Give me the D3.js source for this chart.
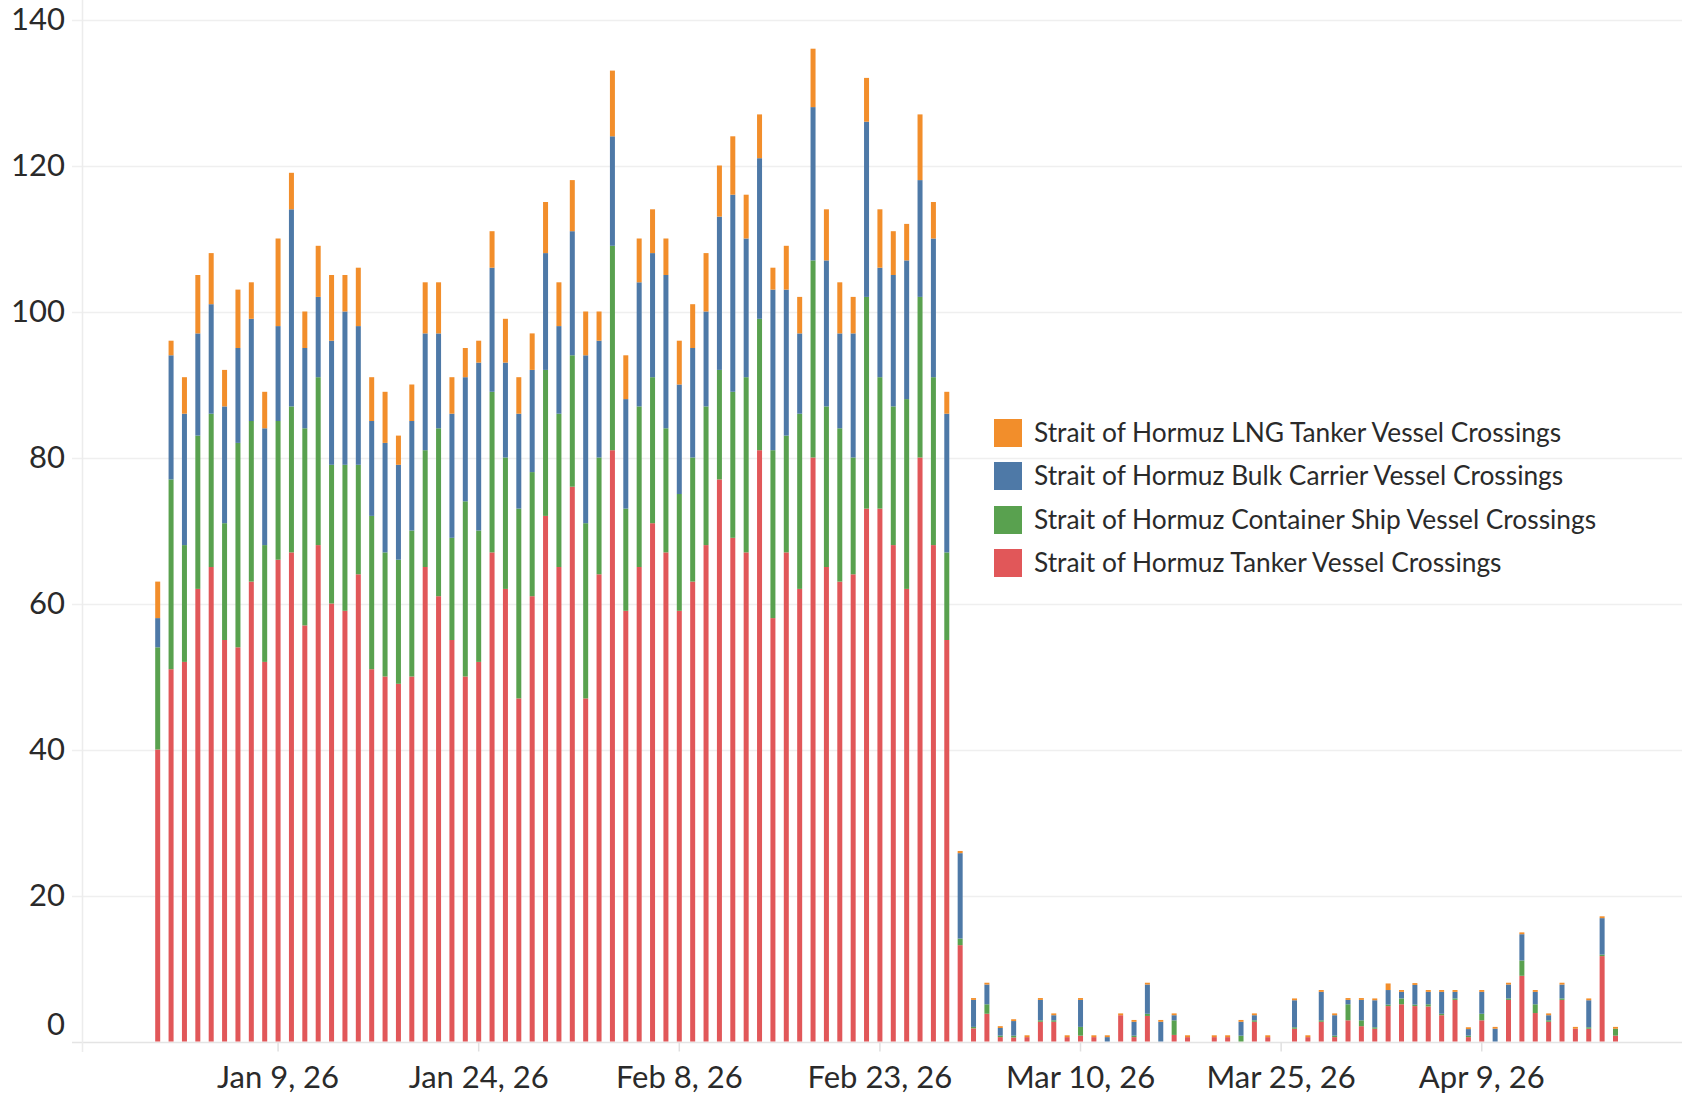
<!DOCTYPE html>
<html><head><meta charset="utf-8">
<script src="https://cdn.jsdelivr.net/npm/d3@7"></script>
<style>
html,body{margin:0;padding:0;background:#fff;}
svg{display:block;font-family:Lato,"Open Sans",sans-serif;}
</style>
</head><body>
<svg id="chart" width="1682" height="1098"></svg>
<script>
// ---- data ----
const startDate = "2025-12-31";
const endDate = "2026-04-19";
const missingDates = ["2026-03-19", "2026-03-25"];

const seriesKeys = ["tanker", "container", "bulk", "lng"];
const seriesNames = {
  lng: "Strait of Hormuz LNG Tanker Vessel Crossings",
  bulk: "Strait of Hormuz Bulk Carrier Vessel Crossings",
  container: "Strait of Hormuz Container Ship Vessel Crossings",
  tanker: "Strait of Hormuz Tanker Vessel Crossings"
};
const legendOrder = ["lng", "bulk", "container", "tanker"];
const seriesColors = {lng: "#F28E2B", bulk: "#4E79A7", container: "#59A14F", tanker: "#E15759"};

const tanker = [40,51,52,62,65,55,54,63,52,66, 67,57,68,60,59,64,51,50,49,50,
  65,61,55,50,52,67,62,47,61,72, 65,76,47,64,81,59,65,71,67,59,
  63,68,77,69,67,81,58,67,62,80, 65,63,64,73,73,68,62,80,68,55,
  13.2,1.8,3.8,0.6,0.55,0.6,2.7,2.7,0.6,0.8,0.6,0,3.6,0.6,3.5,0,0.9,0.6,
  0.6,0.6,0,2.7,0.6,
  1.75,0.6,2.7,0.6,2.9,2.1,1.75,4.85,5.1,4.85,4.8,3.6,5.7,0.6,2.9,0,5.7,9.0,3.9,2.7,5.7,1.75,1.75,11.7,0.8];
const container = [14,26,16,21,21,16,28,22,16,19, 20,27,23,19,20,15,21,17,17,20,
  16,23,14,24,18,22,18,26,17,20, 21,18,24,16,28,14,22,20,17,16,
  17,19,15,20,24,18,23,16,24,27, 22,21,16,29,18,19,26,22,23,12,
  0.9,0.2,1.3,0.2,0.25,0,0.2,0.2,0,1.2,0,0,0,0.2,0.3,0,2.0,0,
  0,0,0.8,0.2,0,
  0.2,0,0.2,0.2,2.2,0.8,0.2,0.2,0.8,0.2,0.3,0.2,0.2,0.2,0.9,0,0.2,2.1,1.2,0.2,0.2,0,0.2,0.2,0.95];
const bulk = [4,17,18,14,15,16,13,14,16,13, 27,11,11,17,21,19,13,15,13,15,
  16,13,17,17,23,17,13,13,14,16, 12,17,23,16,15,15,17,17,21,15,
  15,13,21,27,19,22,22,20,11,21, 20,13,17,24,15,18,19,16,19,19,
  11.7,3.7,2.7,1.05,2.0,0,2.8,0.7,0,3.7,0,0.6,0,1.9,4.0,2.7,0.7,0,
  0,0,1.9,0.7,0,
  3.7,0,3.9,2.8,0.6,2.8,3.7,2.0,0.9,2.7,1.7,3.0,0.9,0.9,3.0,1.75,1.9,3.6,1.7,0.7,1.9,0,3.7,5.0,0];
const lng = [5,2,5,8,7,5,8,5,5,12, 5,5,7,9,5,8,6,7,4,5,
  7,7,5,4,3,5,6,5,5,7, 6,7,6,4,9,6,6,6,5,6,
  6,8,7,8,6,6,3,6,5,8, 7,7,5,6,8,6,5,9,5,3,
  0.3,0.25,0.25,0.25,0.25,0.25,0.25,0.25,0.25,0.25,0.25,0.25,0.25,0.25,0.25,0.25,0.25,0.25,
  0.25,0.25,0.25,0.25,0.25,
  0.25,0.25,0.25,0.25,0.25,0.25,0.25,0.9,0.25,0.25,0.25,0.25,0.25,0.25,0.25,0.25,0.25,0.25,0.25,0.25,0.25,0.25,0.25,0.25,0.25];

const yTicks = [0, 20, 40, 60, 80, 100, 120, 140];
const xTickDates = ["2026-01-09", "2026-01-24", "2026-02-08", "2026-02-23", "2026-03-10", "2026-03-25", "2026-04-09"];

// ---- build ----
const parse = d3.utcParse("%Y-%m-%d");
const fmtKey = d3.utcFormat("%Y-%m-%d");
const allDays = d3.utcDay.range(parse(startDate), d3.utcDay.offset(parse(endDate), 1));
const dates = allDays.filter(d => !missingDates.includes(fmtKey(d)));

const rows = dates.map((d, i) => ({
  date: d, tanker: tanker[i], container: container[i], bulk: bulk[i], lng: lng[i]
}));

const svg = d3.select("#chart");
const W = 1682, H = 1098;

const x = d3.scaleUtc().domain([parse(startDate), parse(endDate)]).range([157.7, 1615.5]);
const y = d3.scaleLinear().domain([0, 140]).range([1041.5, 19.5]);
const barW = 5;

// gridlines
svg.append("g").selectAll("line").data(yTicks).join("line")
  .attr("x1", 72).attr("x2", W)
  .attr("y1", d => Math.round(y(d)) + 0.5).attr("y2", d => Math.round(y(d)) + 0.5)
  .attr("stroke", d => d === 0 ? "#e4e4e4" : "#efefef").attr("stroke-width", 1.5);

// vertical axis line
svg.append("line").attr("x1", 82.5).attr("x2", 82.5).attr("y1", 0).attr("y2", 1052)
  .attr("stroke", "#ececec").attr("stroke-width", 1.5);

// y labels
svg.append("g").selectAll("text").data(yTicks).join("text")
  .attr("x", 65)
  .attr("y", d => d === 0 ? y(d) - 17 : y(d))
  .attr("dy", "0.35em")
  .attr("text-anchor", "end")
  .attr("font-size", 31)
  .attr("fill", "#2a2a2a")
  .text(d => d);

// x ticks
const xt = xTickDates.map(parse);
svg.append("g").selectAll("line").data(xt).join("line")
  .attr("x1", d => x(d)).attr("x2", d => x(d))
  .attr("y1", y(0) + 1).attr("y2", y(0) + 10)
  .attr("stroke", "#e0e0e0").attr("stroke-width", 1.5);
const fmtX = d3.utcFormat("%b %-d, %y");
svg.append("g").selectAll("text").data(xt).join("text")
  .attr("x", d => x(d)).attr("y", 1088)
  .attr("text-anchor", "middle")
  .attr("font-size", 31)
  .attr("fill", "#2a2a2a")
  .text(d => fmtX(d));

// stacked bars
const stack = d3.stack().keys(seriesKeys);
const layers = stack(rows);
svg.append("g").selectAll("g").data(layers).join("g")
  .attr("fill", l => seriesColors[l.key])
  .selectAll("rect").data(l => l).join("rect")
  .attr("x", d => x(d.data.date) - barW / 2)
  .attr("width", barW)
  .attr("y", d => y(d[1]))
  .attr("height", d => Math.max(0, y(d[0]) - y(d[1])));

// legend
const lg = svg.append("g");
const legendY = [433, 476, 520, 563];
legendOrder.forEach((k, i) => {
  lg.append("rect").attr("x", 994).attr("y", legendY[i] - 14).attr("width", 28).attr("height", 28)
    .attr("fill", seriesColors[k]);
  lg.append("text").attr("x", 1034).attr("y", legendY[i]).attr("dy", "0.35em")
    .attr("font-size", 26.3).attr("fill", "#2a2a2a").text(seriesNames[k]);
});
</script>
</body></html>
